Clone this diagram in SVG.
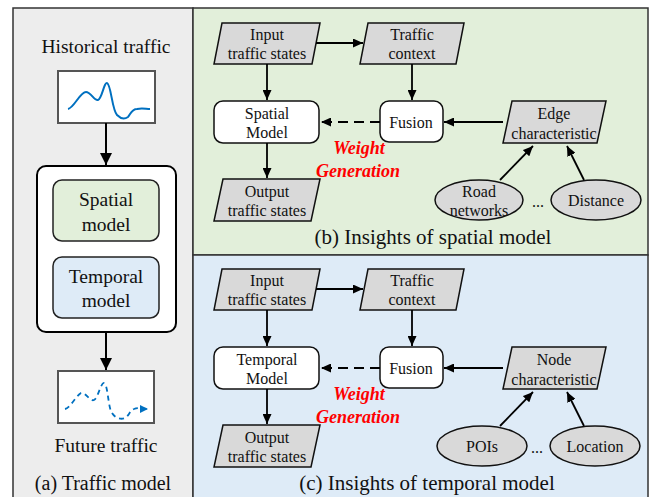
<svg xmlns="http://www.w3.org/2000/svg" width="657" height="497" viewBox="0 0 657 497">
<defs>
<style>
text{font-family:"Liberation Serif","Times New Roman",serif;fill:#111;text-anchor:middle}
.lt{font-size:19.5px}
.nt{font-size:16px}
.cap{font-size:20px}
.capr{font-size:21px}
.wg{font-size:18px;font-weight:bold;font-style:italic;fill:#ff0000}
.para{fill:#d9d9d9;stroke:#111;stroke-width:1.5}
.box{fill:#fff;stroke:#111;stroke-width:1.5}
.ell{fill:#d9d9d9;stroke:#111;stroke-width:1.5}
.ln{stroke:#000;stroke-width:1.8;fill:none}
.lnb{stroke:#000;stroke-width:2;fill:none}
</style>
<marker id="ah" markerWidth="10" markerHeight="9" refX="10" refY="4.5" orient="auto" markerUnits="userSpaceOnUse"><path d="M0,0 L10,4.5 L0,9 z" fill="#000"/></marker>
<marker id="ahb" markerWidth="12" markerHeight="12" refX="12" refY="6" orient="auto" markerUnits="userSpaceOnUse"><path d="M0,0 L12,6 L0,12 z" fill="#000"/></marker>
<marker id="ahc" markerWidth="8" markerHeight="8" refX="8" refY="4" orient="auto" markerUnits="userSpaceOnUse"><path d="M0,0 L8,4 L0,8 z" fill="#0070c0"/></marker>
</defs>

<!-- panels -->
<g id="panel-a">
<rect x="13" y="8" width="180" height="500" fill="#ededed" stroke="#333" stroke-width="1.5"/>
</g>
<g id="panel-b">
<rect x="193" y="8" width="455" height="247" fill="#e2efda" stroke="#333" stroke-width="1.5"/>
</g>
<g id="panel-c">
<rect x="193" y="255" width="455" height="253" fill="#deebf7" stroke="#333" stroke-width="1.5"/>
</g>

<!-- (a) Traffic model -->
<text class="lt" x="106" y="53">Historical traffic</text>
<g id="hist-chart">
<rect x="58" y="71" width="97" height="52" fill="#fff" stroke="#555" stroke-width="2"/>
<path d="M68,109 C74,108 80,92 86,92 C91,92 94,101 98,100 C102,99 104,82 107,83 C111,84 112,110 117,115 C121,119 125,119 128,117 C131,113 132,109 137,109 C142,108 146,109 150,109" fill="none" stroke="#0070c0" stroke-width="2"/>
</g>
<g id="model-box">
<rect x="37" y="166" width="139" height="166" rx="9" fill="#fff" stroke="#000" stroke-width="2"/>
</g>
<g id="spatial-model-a">
<rect x="53" y="180" width="106" height="61" rx="9" fill="#e2efda" stroke="#222" stroke-width="1.5"/>
<text class="lt" x="106" y="206">Spatial</text>
<text class="lt" x="106" y="231">model</text>
</g>
<g id="temporal-model-a">
<rect x="53" y="257" width="106" height="61" rx="9" fill="#deebf7" stroke="#222" stroke-width="1.5"/>
<text class="lt" x="106" y="283">Temporal</text>
<text class="lt" x="106" y="307">model</text>
</g>
<g id="future-chart">
<rect x="58" y="371" width="96" height="52" fill="#fff" stroke="#555" stroke-width="2"/>
<path d="M65,409 C70,408 76,396 81,393 C86,392 90,402 94,400 C98,398 101,382 104,383 C108,384 108,408 112,413 C115,418 121,420 125,418 C129,416 130,410 134,409 C138,407 142,409 148,409" fill="none" stroke="#0070c0" stroke-width="1.8" stroke-dasharray="5 4" marker-end="url(#ahc)"/>
</g>
<text class="lt" x="106" y="452">Future traffic</text>
<text class="cap" x="103" y="490">(a) Traffic model</text>

<!-- (b) spatial -->
<g id="b-input">
<polygon class="para" points="222,23 320,23 312,64 214,64"/>
<text class="nt" x="267" y="40">Input</text>
<text class="nt" x="267" y="59">traffic states</text>
</g>
<g id="b-context">
<polygon class="para" points="368,23 464,23 456,64 360,64"/>
<text class="nt" x="412" y="40">Traffic</text>
<text class="nt" x="412" y="59">context</text>
</g>
<g id="b-model">
<rect class="box" x="214" y="101" width="105" height="42" rx="9"/>
<text class="nt" x="267" y="119">Spatial</text>
<text class="nt" x="267" y="138">Model</text>
</g>
<g id="b-fusion">
<rect class="box" x="380" y="101" width="63" height="41" rx="9"/>
<text class="nt" x="411" y="128">Fusion</text>
</g>
<g id="b-output">
<polygon class="para" points="223,179 320,179 311,221 214,221"/>
<text class="nt" x="267" y="197">Output</text>
<text class="nt" x="267" y="216">traffic states</text>
</g>
<g id="b-edge">
<polygon class="para" points="512,101 606,101 597,143 503,143"/>
<text class="nt" x="554" y="119">Edge</text>
<text class="nt" x="554" y="139">characteristic</text>
</g>
<g id="b-road">
<ellipse class="ell" cx="479" cy="200" rx="44" ry="20"/>
<text class="nt" x="479" y="197">Road</text>
<text class="nt" x="479" y="216">networks</text>
</g>
<g id="b-distance">
<ellipse class="ell" cx="596" cy="200" rx="45" ry="20"/>
<text class="nt" x="596" y="206">Distance</text>
</g>
<text class="nt" x="538" y="207">...</text>
<text class="wg" x="359" y="154">Weight</text>
<text class="wg" x="358" y="177">Generation</text>
<text class="capr" x="433" y="244">(b) Insights of spatial model</text>

<!-- (c) temporal -->
<g id="c-input">
<polygon class="para" points="222,269 320,269 312,310 214,310"/>
<text class="nt" x="267" y="286">Input</text>
<text class="nt" x="267" y="305">traffic states</text>
</g>
<g id="c-context">
<polygon class="para" points="368,269 464,269 456,310 360,310"/>
<text class="nt" x="412" y="286">Traffic</text>
<text class="nt" x="412" y="305">context</text>
</g>
<g id="c-model">
<rect class="box" x="214" y="347" width="105" height="42" rx="9"/>
<text class="nt" x="267" y="365">Temporal</text>
<text class="nt" x="267" y="384">Model</text>
</g>
<g id="c-fusion">
<rect class="box" x="380" y="347" width="63" height="41" rx="9"/>
<text class="nt" x="411" y="374">Fusion</text>
</g>
<g id="c-output">
<polygon class="para" points="223,425 320,425 311,467 214,467"/>
<text class="nt" x="267" y="443">Output</text>
<text class="nt" x="267" y="462">traffic states</text>
</g>
<g id="c-node">
<polygon class="para" points="512,347 606,347 597,389 503,389"/>
<text class="nt" x="554" y="365">Node</text>
<text class="nt" x="554" y="385">characteristic</text>
</g>
<g id="c-pois">
<ellipse class="ell" cx="482" cy="446" rx="45" ry="20"/>
<text class="nt" x="482" y="452">POIs</text>
</g>
<g id="c-location">
<ellipse class="ell" cx="595" cy="446" rx="45" ry="20"/>
<text class="nt" x="595" y="452">Location</text>
</g>
<text class="nt" x="537" y="453">...</text>
<text class="wg" x="359" y="400">Weight</text>
<text class="wg" x="358" y="423">Generation</text>
<text class="capr" x="427" y="490">(c) Insights of temporal model</text>

<!-- connectors -->
<g id="connectors">
<line class="lnb" x1="106" y1="123" x2="106" y2="165" marker-end="url(#ahb)"/>
<line class="lnb" x1="106" y1="332" x2="106" y2="370" marker-end="url(#ahb)"/>

<line class="ln" x1="316" y1="43" x2="363" y2="43" marker-end="url(#ah)"/>
<line class="ln" x1="267" y1="64" x2="267" y2="100" marker-end="url(#ah)"/>
<line class="ln" x1="412" y1="64" x2="412" y2="100" marker-end="url(#ah)"/>
<line class="ln" x1="267" y1="143" x2="267" y2="178" marker-end="url(#ah)"/>
<line class="ln" x1="380" y1="122" x2="321" y2="122" stroke-dasharray="10 6" marker-end="url(#ah)"/>
<line class="ln" x1="503" y1="122" x2="444" y2="122" marker-end="url(#ah)"/>
<line class="ln" x1="500" y1="180" x2="533" y2="146" marker-end="url(#ah)"/>
<line class="ln" x1="584" y1="180" x2="567" y2="146" marker-end="url(#ah)"/>

<line class="ln" x1="316" y1="289" x2="363" y2="289" marker-end="url(#ah)"/>
<line class="ln" x1="267" y1="310" x2="267" y2="346" marker-end="url(#ah)"/>
<line class="ln" x1="412" y1="310" x2="412" y2="346" marker-end="url(#ah)"/>
<line class="ln" x1="267" y1="389" x2="267" y2="424" marker-end="url(#ah)"/>
<line class="ln" x1="380" y1="368" x2="321" y2="368" stroke-dasharray="10 6" marker-end="url(#ah)"/>
<line class="ln" x1="503" y1="368" x2="444" y2="368" marker-end="url(#ah)"/>
<line class="ln" x1="500" y1="426" x2="533" y2="392" marker-end="url(#ah)"/>
<line class="ln" x1="584" y1="426" x2="567" y2="392" marker-end="url(#ah)"/>
</g>
</svg>
